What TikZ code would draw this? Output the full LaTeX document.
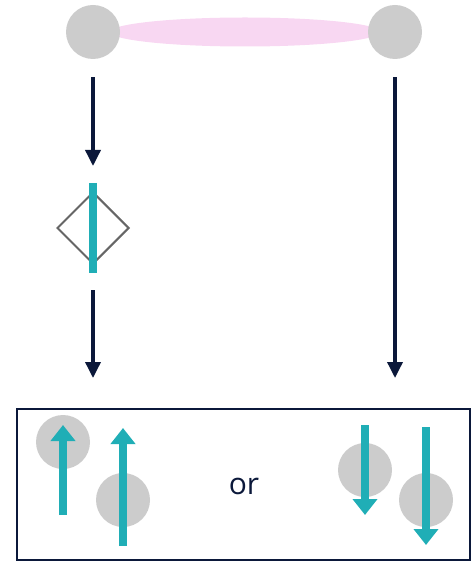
\documentclass[tikz,border=0pt]{standalone}
\usepackage{fontspec}
\setmainfont{Open Sans}
\definecolor{spinteal}{RGB}{32,174,182}
\definecolor{atomgray}{RGB}{204,204,204}
\definecolor{bondpink}{RGB}{248,215,242}
\definecolor{flownavy}{RGB}{11,24,58}
\definecolor{edgegray}{RGB}{102,102,102}
\usetikzlibrary{shapes.geometric,arrows.meta,calc}

\begin{document}
\begin{tikzpicture}[x=1pt, y=-1pt,
    atom/.style={circle, fill=atomgray, minimum size=54pt, inner sep=0pt},
    flow/.style={flownavy, line width=3.5pt, -{Triangle[width=15pt,length=16pt]}},
    spin/.style={spinteal, line width=7.5pt, -{Triangle[width=24pt,length=16pt]}}]
    \useasboundingbox (0,0) rectangle (474,561);

    % Bonded pair
    \fill[bondpink] (245,32) ellipse [x radius=135, y radius=14.5];
    \node[atom] (left) at (93,32) {};
    \node[atom] (right) at (395,32) {};

    % Measurement
    \node[draw=edgegray, line width=2pt, diamond, minimum width=72pt, minimum height=72pt, inner sep=0pt] (gate) at (93,228) {};
    \draw[spinteal, line width=8pt] (93,183) -- (93,273);

    % Outcome box
    \node[draw=flownavy, line width=2pt, minimum width=453pt, minimum height=151pt, inner sep=0pt] (result) at (243.5,484.5) {};

    % Arrows
    \draw[flow, shorten <=18pt, shorten >=25pt] (left.south) -- (gate.north);
    \draw[flow, shorten <=25pt, shorten >=30pt] (gate.south) -- (gate.south |- result.north);
    \draw[flow, shorten <=18pt, shorten >=30pt] (right.south) -- (right.south |- result.north);

    % Both up
    \node[atom] (u1) at (63,442) {};
    \node[atom] (u2) at (123,500) {};
    \draw[spin] (63,515) -- (63,425);
    \draw[spin] (123,546) -- (123,428);

    \node[font=\fontsize{30}{36}\selectfont, text=flownavy] (or) at (244,486) {or};

    % Both down
    \node[atom] (d1) at (365,470) {};
    \node[atom] (d2) at (426,500) {};
    \draw[spin] (365,425) -- (365,515);
    \draw[spin] (426,427) -- (426,545);
\end{tikzpicture}
\end{document}
